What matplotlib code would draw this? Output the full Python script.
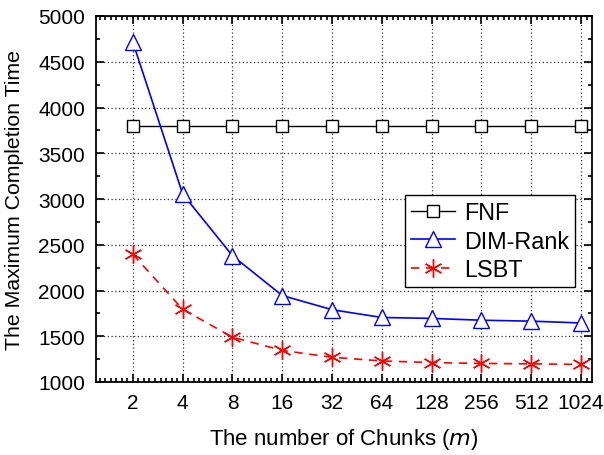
import numpy as np
import matplotlib.pyplot as plt
from matplotlib.ticker import MultipleLocator

plt.rcParams['font.family'] = ['Liberation Sans', 'DejaVu Sans']

chunks = ['2', '4', '8', '16', '32', '64', '128', '256', '512', '1024']
fnf = [3800, 3800, 3800, 3800, 3800, 3800, 3800, 3800, 3800, 3800]
dim_rank = [4715, 3055, 2380, 1945, 1790, 1705, 1695, 1675, 1665, 1645]
lsbt = [2395, 1795, 1490, 1345, 1270, 1230, 1212, 1203, 1198, 1192]

x = np.arange(1, len(chunks) + 1)

fig = plt.figure(figsize=(6.04, 4.56), dpi=100)
ax = fig.add_axes([96/604, 1 - 383/456, (592-96)/604, (383-17)/456])

ax.plot(x, fnf, color='black', lw=1, marker='s', ms=9, mfc='white', mec='black',
        mew=1, label='FNF')
ax.plot(x, dim_rank, color='blue', lw=1.2, marker='^', ms=11, mfc='white', mec='blue',
        mew=1, label='DIM-Rank')
ax.plot(x, lsbt, color='red', lw=1.2, ls=(0, (5, 4)), marker=(6, 2, 0), ms=13,
        mec='red', mew=1, label='LSBT')

ax.set_xlim(0.26, 10.22)
ax.set_ylim(1000, 5000)
ax.set_xticks(x)
ax.set_xticklabels(chunks)
ax.xaxis.set_minor_locator(MultipleLocator(1/9))
ax.yaxis.set_major_locator(MultipleLocator(500))
ax.yaxis.set_minor_locator(MultipleLocator(250))

ax.grid(True, which='major', color='#333333', ls=(0, (1, 2)), lw=0.9)
ax.tick_params(which='both', direction='in', top=True, right=True, labelsize=15, width=1.2)
ax.tick_params(which='major', length=6, pad=8)
ax.tick_params(which='minor', length=3)
for s in ax.spines.values():
    s.set_linewidth(1.3)

ax.set_xlabel('The number of Chunks ($\\it{m}$)', fontsize=16, labelpad=10)
ax.set_ylabel('The Maximum Completion Time', fontsize=15.3, labelpad=10)

leg = ax.legend(loc='upper right', bbox_to_anchor=(0.966, 0.511), fontsize=16.8,
                fancybox=False, edgecolor='black', framealpha=1, borderaxespad=0,
                handlelength=1.9, borderpad=0.25, labelspacing=0.25, handletextpad=0.4)
leg.get_frame().set_linewidth(1)

fig.savefig('out.png', dpi=100)
